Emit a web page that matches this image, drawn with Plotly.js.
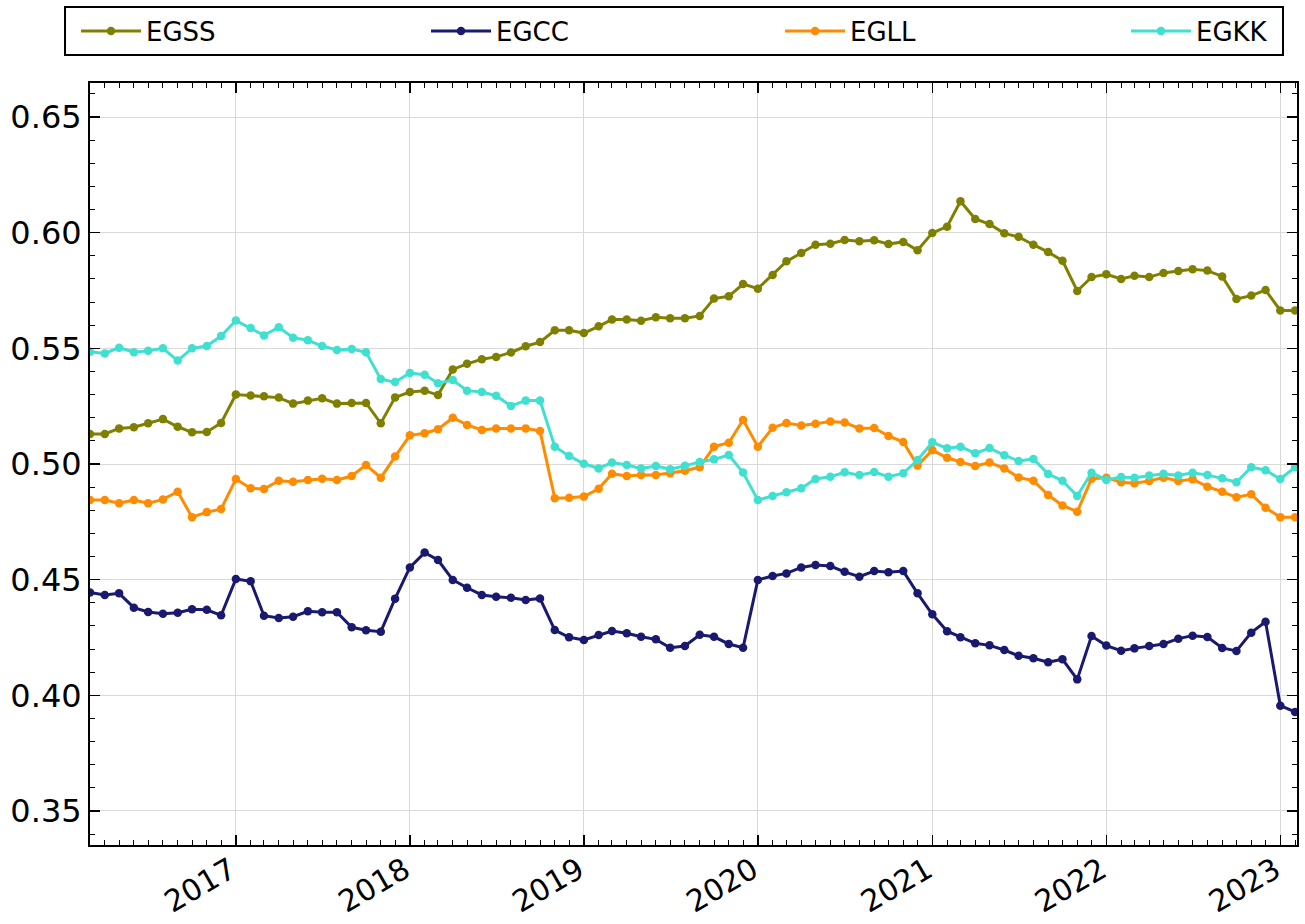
<!DOCTYPE html>
<html>
<head>
<meta charset="utf-8">
<script src="https://cdn.plot.ly/plotly-3.0.1.min.js"></script>
<style>html,body{margin:0;padding:0;background:#fff;}#chart{width:1305px;height:924px;}</style>
</head>
<body>
<div id="chart"></div>
<script>
const months = [
 '2016-03-01','2016-04-01','2016-05-01','2016-06-01','2016-07-01','2016-08-01','2016-09-01','2016-10-01','2016-11-01','2016-12-01',
 '2017-01-01','2017-02-01','2017-03-01','2017-04-01','2017-05-01','2017-06-01','2017-07-01','2017-08-01','2017-09-01','2017-10-01','2017-11-01','2017-12-01',
 '2018-01-01','2018-02-01','2018-03-01','2018-04-01','2018-05-01','2018-06-01','2018-07-01','2018-08-01','2018-09-01','2018-10-01','2018-11-01','2018-12-01',
 '2019-01-01','2019-02-01','2019-03-01','2019-04-01','2019-05-01','2019-06-01','2019-07-01','2019-08-01','2019-09-01','2019-10-01','2019-11-01','2019-12-01',
 '2020-01-01','2020-02-01','2020-03-01','2020-04-01','2020-05-01','2020-06-01','2020-07-01','2020-08-01','2020-09-01','2020-10-01','2020-11-01','2020-12-01',
 '2021-01-01','2021-02-01','2021-03-01','2021-04-01','2021-05-01','2021-06-01','2021-07-01','2021-08-01','2021-09-01','2021-10-01','2021-11-01','2021-12-01',
 '2022-01-01','2022-02-01','2022-03-01','2022-04-01','2022-05-01','2022-06-01','2022-07-01','2022-08-01','2022-09-01','2022-10-01','2022-11-01','2022-12-01',
 '2023-01-01','2023-02-01'
];

const EGSS = [
 0.5130,0.5130,0.5154,0.5159,0.5176,0.5194,0.5161,0.5137,0.5138,0.5177,
 0.5300,0.5296,0.5293,0.5287,0.5261,0.5274,0.5284,0.5261,0.5264,0.5264,0.5176,0.5288,
 0.5311,0.5317,0.5298,0.5409,0.5433,0.5453,0.5463,0.5482,0.5509,0.5527,0.5578,0.5578,
 0.5566,0.5595,0.5625,0.5625,0.5619,0.5634,0.5630,0.5630,0.5640,0.5715,0.5725,0.5778,
 0.5758,0.5817,0.5876,0.5912,0.5948,0.5952,0.5968,0.5963,0.5967,0.5951,0.5960,0.5924,
 0.5999,0.6026,0.6136,0.6059,0.6037,0.5997,0.5982,0.5948,0.5916,0.5879,0.5748,0.5808,
 0.5820,0.5800,0.5814,0.5808,0.5826,0.5834,0.5842,0.5836,0.5811,0.5713,0.5728,0.5752,
 0.5664,0.5664
];

const EGCC = [
 0.4445,0.4434,0.4441,0.4379,0.4360,0.4353,0.4357,0.4372,0.4370,0.4346,
 0.4503,0.4493,0.4344,0.4334,0.4340,0.4363,0.4359,0.4359,0.4294,0.4281,0.4275,0.4418,
 0.4553,0.4617,0.4585,0.4499,0.4465,0.4434,0.4426,0.4422,0.4412,0.4419,0.4282,0.4251,
 0.4239,0.4261,0.4278,0.4268,0.4253,0.4242,0.4206,0.4213,0.4262,0.4253,0.4222,0.4206,
 0.4499,0.4516,0.4527,0.4553,0.4563,0.4559,0.4534,0.4513,0.4537,0.4532,0.4537,0.4441,
 0.4350,0.4277,0.4251,0.4225,0.4216,0.4196,0.4171,0.4160,0.4143,0.4156,0.4069,0.4256,
 0.4215,0.4193,0.4203,0.4213,0.4222,0.4245,0.4258,0.4252,0.4205,0.4192,0.4271,0.4318,
 0.3955,0.3928
];

const EGLL = [
 0.4844,0.4844,0.4830,0.4844,0.4830,0.4847,0.4880,0.4770,0.4792,0.4805,
 0.4935,0.4895,0.4892,0.4928,0.4923,0.4931,0.4936,0.4931,0.4948,0.4996,0.4941,0.5032,
 0.5124,0.5133,0.5150,0.5200,0.5169,0.5147,0.5153,0.5153,0.5154,0.5143,0.4852,0.4854,
 0.4859,0.4893,0.4958,0.4948,0.4952,0.4952,0.4960,0.4971,0.4986,0.5075,0.5092,0.5190,
 0.5075,0.5157,0.5177,0.5166,0.5174,0.5184,0.5179,0.5154,0.5156,0.5121,0.5095,0.4993,
 0.5060,0.5027,0.5009,0.4991,0.5006,0.4981,0.4942,0.4928,0.4866,0.4821,0.4794,0.4936,
 0.4941,0.4921,0.4917,0.4927,0.4941,0.4927,0.4934,0.4902,0.4880,0.4856,0.4869,0.4811,
 0.4770,0.4770
];

const EGKK = [
 0.5485,0.5478,0.5503,0.5483,0.5490,0.5500,0.5447,0.5500,0.5510,0.5553,
 0.5620,0.5588,0.5556,0.5591,0.5546,0.5535,0.5510,0.5493,0.5497,0.5483,0.5367,0.5354,
 0.5393,0.5386,0.5349,0.5363,0.5317,0.5311,0.5295,0.5251,0.5274,0.5274,0.5075,0.5035,
 0.5001,0.4981,0.5006,0.4996,0.4981,0.4991,0.4977,0.4992,0.5009,0.5020,0.5039,0.4963,
 0.4844,0.4862,0.4878,0.4895,0.4935,0.4945,0.4964,0.4952,0.4965,0.4945,0.4960,0.5017,
 0.5094,0.5068,0.5075,0.5046,0.5069,0.5038,0.5013,0.5022,0.4957,0.4928,0.4862,0.4962,
 0.4931,0.4944,0.4941,0.4950,0.4958,0.4950,0.4962,0.4952,0.4938,0.4921,0.4986,0.4973,
 0.4935,0.4986
];

const seriesNames = ['EGSS','EGCC','EGLL','EGKK'];
const seriesData = [EGSS, EGCC, EGLL, EGKK];
const seriesColors = ['#808000','#191970','#FF8C00','#40E0D0'];
const yTickVals = [0.35,0.40,0.45,0.50,0.55,0.60,0.65];
const xTickVals = ['2017-01-01','2018-01-01','2019-01-01','2020-01-01','2021-01-01','2022-01-01','2023-01-01'];
const xTickText = ['2017','2018','2019','2020','2021','2022','2023'];

const legendIds = ['legend','legend2','legend3','legend4'];
const legendX = [-0.0116, 0.2784, 0.5717, 0.8583];

const traces = seriesNames.map((n, k) => ({
  type: 'scatter', mode: 'lines+markers', name: n,
  x: months, y: seriesData[k],
  legend: legendIds[k],
  line: {color: seriesColors[k], width: 3},
  marker: {color: seriesColors[k], size: 8.5}
}));

const layout = {
  width: 1305, height: 924,
  paper_bgcolor: '#fff', plot_bgcolor: '#fff',
  margin: {l: 90, r: 8, t: 83, b: 79},
  font: {family: 'DejaVu Sans', color: '#000'},
  showlegend: true,
  shapes: [{
    type: 'rect', xref: 'paper', yref: 'paper',
    x0: -0.0207, x1: 0.9884, y0: 1.0367, y1: 1.0997,
    line: {color: '#000', width: 2}, fillcolor: 'rgba(0,0,0,0)'
  }],
  xaxis: {
    type: 'date', range: ['2016-03-01', '2023-02-05'],
    tickvals: xTickVals, ticktext: xTickText, tickangle: -30,
    tickfont: {family: 'DejaVu Sans', size: 30, color: '#000'},
    ticklabelstandoff: -6, ticklabelshift: -5,
    showgrid: true, gridcolor: '#d9d9d9', gridwidth: 1,
    showline: true, linecolor: '#000', linewidth: 2, mirror: 'allticks',
    ticks: 'inside', ticklen: 10, tickwidth: 1.5, tickcolor: '#000',
    minor: {dtick: 'M1', tick0: '2017-01-01', ticks: 'inside', ticklen: 5, tickwidth: 1, tickcolor: '#000', showgrid: false},
    zeroline: false
  },
  yaxis: {
    range: [0.3353, 0.6647],
    tickvals: yTickVals, tickformat: '.2f',
    tickfont: {family: 'DejaVu Sans', size: 32, color: '#000'},
    showgrid: true, gridcolor: '#d9d9d9', gridwidth: 1,
    showline: true, linecolor: '#000', linewidth: 2, mirror: 'allticks',
    ticks: 'inside', ticklen: 10, tickwidth: 1.5, tickcolor: '#000',
    minor: {dtick: 0.01, tick0: 0.35, ticks: 'inside', ticklen: 5, tickwidth: 1, tickcolor: '#000', showgrid: false},
    zeroline: false
  }
};

legendIds.forEach((id, k) => {
  layout[id] = {
    orientation: 'h', x: legendX[k], xanchor: 'left', y: 1.0682, yanchor: 'middle',
    borderwidth: 0, bgcolor: 'rgba(0,0,0,0)',
    font: {family: 'DejaVu Sans', size: 26, color: '#000'},
    itemwidth: 60
  };
});

Plotly.newPlot('chart', traces, layout, {displayModeBar: false, staticPlot: true});
</script>
</body>
</html>
